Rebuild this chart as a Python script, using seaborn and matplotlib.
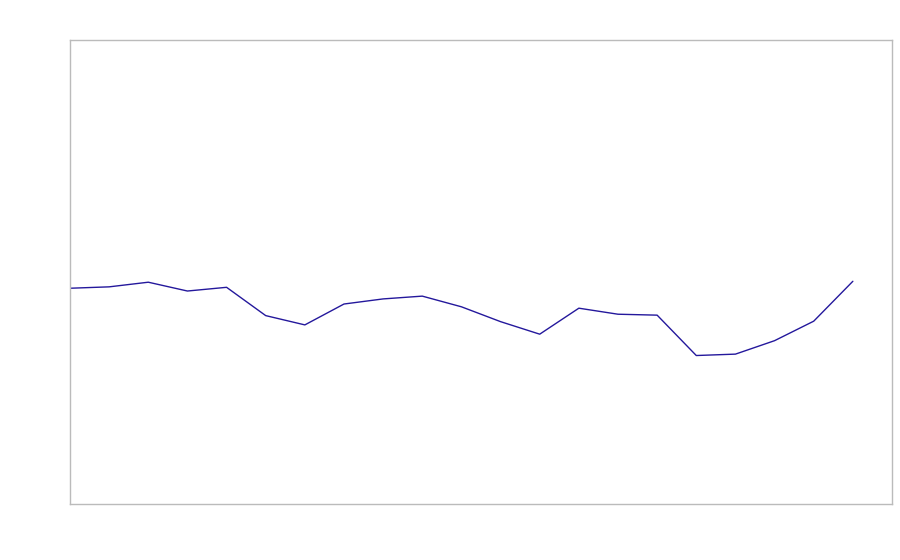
import matplotlib
matplotlib.use("Agg")
import matplotlib.pyplot as plt
import seaborn as sns
import pandas as pd

periods = list(range(21))
values = [46.5, 46.8, 47.8, 45.9, 46.7, 40.6, 38.6, 43.1, 44.2, 44.8, 42.5,
          39.3, 36.6, 42.2, 40.9, 40.7, 32.0, 32.3, 35.2, 39.4, 48.0]

df = pd.DataFrame({"period": periods, "value": values})

sns.set_style("white")
fig = plt.figure(figsize=(9, 5.6), dpi=100)
ax = fig.add_axes([70/900, 56/560, 822/900, 464/560])
sns.lineplot(data=df, x="period", y="value", ax=ax, color="#24189c", linewidth=1.0)
ax.set_xlim(0, 21)
ax.set_ylim(0, 100)
ax.set_xticks([])
ax.set_yticks([])
ax.set_xlabel("")
ax.set_ylabel("")
for s in ax.spines.values():
    s.set_color("#bbbbbb")
    s.set_linewidth(1.0)
fig.savefig("out.png", dpi=100)
